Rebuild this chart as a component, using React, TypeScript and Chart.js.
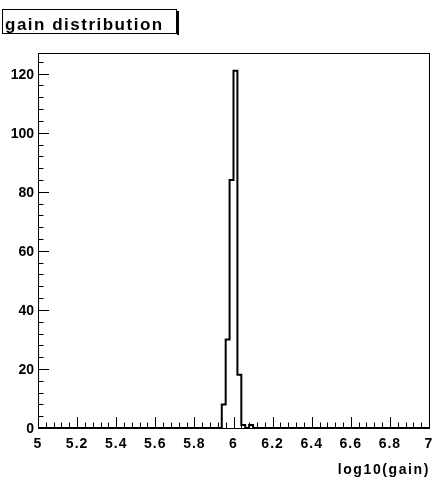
import { useEffect, useRef } from 'react';
import { Chart, registerables } from 'chart.js';

Chart.register(...registerables);

// Histogram (100 bins of 0.02 from 5 to 7); only non-empty region listed, step line drawn from bin low edges
const binLowEdges = [5.0, 5.94, 5.96, 5.98, 6.0, 6.02, 6.04, 6.06, 6.08, 6.1, 7.0];
const binCounts = [0, 8, 30, 84, 121, 18, 1, 0, 1, 0, 0];

const xTickValues = [5, 5.2, 5.4, 5.6, 5.8, 6, 6.2, 6.4, 6.6, 6.8, 7];
const xTickLabels = ['5', '5.2', '5.4', '5.6', '5.8', '6', '6.2', '6.4', '6.6', '6.8', '7'];
const yTickValues = [0, 20, 40, 60, 80, 100, 120];
const yTickLabels = ['0', '20', '40', '60', '80', '100', '120'];

const titleText = 'gain distribution';
const xAxisTitle = 'log10(gain)';
const X_MIN = 5;
const X_MAX = 7;
const Y_MIN = 0;
const Y_MAX = 127;

const framePlugin = {
  id: 'rootFrame',
  afterDatasetsDraw(chart: any) {
    const { ctx, chartArea } = chart;
    const xs = chart.scales.x;
    const ys = chart.scales.y;
    const { left, right, top, bottom } = chartArea;
    ctx.save();
    ctx.strokeStyle = '#000';
    ctx.fillStyle = '#000';
    ctx.lineWidth = 1;
    // frame
    ctx.strokeRect(Math.round(left) + 0.5, Math.round(top) + 0.5, Math.round(right - left), Math.round(bottom - top));

    // x ticks (inward)
    ctx.beginPath();
    for (let i = 0; i < xTickValues.length; i++) {
      const v = xTickValues[i];
      const px = Math.round(xs.getPixelForValue(v)) + 0.5;
      ctx.moveTo(px, bottom);
      ctx.lineTo(px, bottom - 11);
      if (i < xTickValues.length - 1) {
        const step = (xTickValues[i + 1] - v) / 5;
        for (let k = 1; k < 5; k++) {
          const mp = Math.round(xs.getPixelForValue(v + k * step)) + 0.5;
          ctx.moveTo(mp, bottom);
          ctx.lineTo(mp, bottom - 5.5);
        }
      }
    }
    // y ticks (inward)
    for (let i = 0; i < yTickValues.length; i++) {
      const v = yTickValues[i];
      const py = Math.round(ys.getPixelForValue(v)) + 0.5;
      ctx.moveTo(left, py);
      ctx.lineTo(left + 11, py);
      const next = i < yTickValues.length - 1 ? yTickValues[i + 1] : Y_MAX;
      const step = (yTickValues[1] - yTickValues[0]) / 5;
      for (let m = v + step; m < next - 1e-9 && m <= Y_MAX; m += step) {
        const mp = Math.round(ys.getPixelForValue(m)) + 0.5;
        ctx.moveTo(left, mp);
        ctx.lineTo(left + 5.5, mp);
      }
    }
    ctx.stroke();

    // tick labels
    ctx.font = 'bold 14px "Liberation Sans"';
    (ctx as any).letterSpacing = '1px';
    ctx.textAlign = 'center';
    ctx.textBaseline = 'alphabetic';
    xTickValues.forEach((v, i) => {
      ctx.fillText(xTickLabels[i], xs.getPixelForValue(v), bottom + 20);
    });
    (ctx as any).letterSpacing = '0px';
    ctx.textAlign = 'right';
    ctx.textBaseline = 'middle';
    yTickValues.forEach((v, i) => {
      ctx.fillText(yTickLabels[i], left - 4, ys.getPixelForValue(v) + 1);
    });

    // axis title
    (ctx as any).letterSpacing = '1.6px';
    ctx.textAlign = 'right';
    ctx.textBaseline = 'alphabetic';
    ctx.fillText(xAxisTitle, right + 1, bottom + 46);

    // title box
    (ctx as any).letterSpacing = '1.5px';
    ctx.font = 'bold 17px "Liberation Sans"';
    ctx.textAlign = 'left';
    ctx.fillText(titleText, 5, 30);
    (ctx as any).letterSpacing = '0px';
    ctx.strokeRect(2.5, 9.5, 174, 24);
    ctx.fillRect(177, 11, 2, 24);
    ctx.restore();
  },
};

export default function App() {
  const ref = useRef<HTMLCanvasElement>(null);
  useEffect(() => {
    if (!ref.current) return;
    const chart = new Chart(ref.current, {
      type: 'line',
      data: {
        datasets: [
          {
            data: binLowEdges.map((x, i) => ({ x, y: binCounts[i] })),
            stepped: 'before',
            borderColor: '#000',
            borderWidth: 2,
            pointRadius: 0,
            fill: false,
            tension: 0,
          },
        ],
      },
      options: {
        animation: false,
        responsive: false,
        devicePixelRatio: 1,
        layout: { padding: { top: 53, right: 17, left: 0, bottom: 0 } },
        plugins: { legend: { display: false }, tooltip: { enabled: false }, title: { display: false } },
        scales: {
          x: {
            type: 'linear',
            min: X_MIN,
            max: X_MAX,
            ticks: { display: false },
            grid: { display: false },
            border: { display: false },
            afterFit: (s: any) => {
              s.height = 55;
            },
          },
          y: {
            type: 'linear',
            min: Y_MIN,
            max: Y_MAX,
            ticks: { display: false },
            grid: { display: false },
            border: { display: false },
            afterFit: (s: any) => {
              s.width = 38;
            },
          },
        },
      },
      plugins: [framePlugin],
    });
    return () => chart.destroy();
  }, []);
  return (
    <div style={{ position: 'fixed', left: 0, top: 0, width: 446, height: 483, background: '#fff' }}>
      <canvas ref={ref} width={446} height={483} style={{ display: 'block' }} />
    </div>
  );
}
